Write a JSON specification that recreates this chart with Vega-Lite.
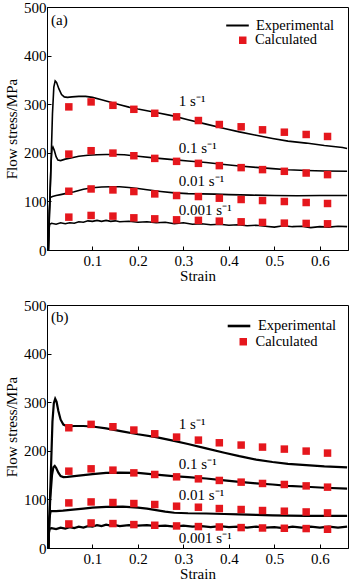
{
  "$schema": "https://vega.github.io/schema/vega-lite/v6.json",
  "padding": {"left": 4, "top": -1, "right": 0, "bottom": 0},
  "spacing": 13,
  "config": {
    "font": "Liberation Serif",
    "view": {"stroke": "black", "strokeWidth": 1},
    "axis": {
      "grid": false, "domainColor": "black", "tickColor": "black", "tickSize": -4,
      "labelFont": "Liberation Serif", "labelFontSize": 15, "labelColor": "black",
      "titleFont": "Liberation Serif", "titleFontSize": 15, "titleFontWeight": "normal", "titleColor": "black"
    },
    "axisX": {"labelPadding": 7, "titlePadding": 0},
    "axisY": {"labelPadding": 5, "titlePadding": 4},
    "legend": {"labelFont": "Liberation Serif", "labelFontSize": 14.5, "labelColor": "black", "title": null, "orient": "none"}
  },
  "resolve": {"scale": {"stroke": "independent", "fill": "independent"}, "legend": {"stroke": "independent", "fill": "independent"}},
  "datasets": {
    "exp": [
      {"panel":"a","rate":"1","strain":0.003,"stress":0},{"panel":"a","rate":"1","strain":0.008,"stress":150},{"panel":"a","rate":"1","strain":0.012,"stress":280},{"panel":"a","rate":"1","strain":0.015,"stress":335},{"panel":"a","rate":"1","strain":0.018,"stress":348},{"panel":"a","rate":"1","strain":0.021,"stress":345},{"panel":"a","rate":"1","strain":0.026,"stress":332},{"panel":"a","rate":"1","strain":0.032,"stress":320},{"panel":"a","rate":"1","strain":0.038,"stress":315},{"panel":"a","rate":"1","strain":0.045,"stress":314},{"panel":"a","rate":"1","strain":0.055,"stress":315},{"panel":"a","rate":"1","strain":0.07,"stress":316},{"panel":"a","rate":"1","strain":0.085,"stress":316},{"panel":"a","rate":"1","strain":0.1,"stress":314},{"panel":"a","rate":"1","strain":0.12,"stress":309},{"panel":"a","rate":"1","strain":0.14,"stress":304},{"panel":"a","rate":"1","strain":0.16,"stress":299},{"panel":"a","rate":"1","strain":0.18,"stress":294},{"panel":"a","rate":"1","strain":0.2,"stress":290},{"panel":"a","rate":"1","strain":0.24,"stress":283},{"panel":"a","rate":"1","strain":0.277,"stress":276},{"panel":"a","rate":"1","strain":0.31,"stress":268},{"panel":"a","rate":"1","strain":0.35,"stress":259},{"panel":"a","rate":"1","strain":0.39,"stress":250},{"panel":"a","rate":"1","strain":0.423,"stress":243},{"panel":"a","rate":"1","strain":0.46,"stress":236},{"panel":"a","rate":"1","strain":0.496,"stress":229.5},{"panel":"a","rate":"1","strain":0.53,"stress":224},{"panel":"a","rate":"1","strain":0.57,"stress":220},{"panel":"a","rate":"1","strain":0.61,"stress":215},{"panel":"a","rate":"1","strain":0.65,"stress":211},{"panel":"a","rate":"1","strain":0.66,"stress":209},
      {"panel":"a","rate":"0.1","strain":0.003,"stress":0},{"panel":"a","rate":"0.1","strain":0.006,"stress":100},{"panel":"a","rate":"0.1","strain":0.009,"stress":180},{"panel":"a","rate":"0.1","strain":0.011,"stress":208},{"panel":"a","rate":"0.1","strain":0.013,"stress":212},{"panel":"a","rate":"0.1","strain":0.016,"stress":205},{"panel":"a","rate":"0.1","strain":0.02,"stress":192},{"panel":"a","rate":"0.1","strain":0.024,"stress":185},{"panel":"a","rate":"0.1","strain":0.03,"stress":184},{"panel":"a","rate":"0.1","strain":0.04,"stress":187},{"panel":"a","rate":"0.1","strain":0.055,"stress":190},{"panel":"a","rate":"0.1","strain":0.07,"stress":193},{"panel":"a","rate":"0.1","strain":0.09,"stress":195},{"panel":"a","rate":"0.1","strain":0.11,"stress":196},{"panel":"a","rate":"0.1","strain":0.13,"stress":196.5},{"panel":"a","rate":"0.1","strain":0.15,"stress":196.5},{"panel":"a","rate":"0.1","strain":0.17,"stress":196},{"panel":"a","rate":"0.1","strain":0.2,"stress":193},{"panel":"a","rate":"0.1","strain":0.24,"stress":189},{"panel":"a","rate":"0.1","strain":0.277,"stress":186},{"panel":"a","rate":"0.1","strain":0.31,"stress":183},{"panel":"a","rate":"0.1","strain":0.35,"stress":180},{"panel":"a","rate":"0.1","strain":0.39,"stress":176},{"panel":"a","rate":"0.1","strain":0.423,"stress":173},{"panel":"a","rate":"0.1","strain":0.46,"stress":170},{"panel":"a","rate":"0.1","strain":0.496,"stress":167.5},{"panel":"a","rate":"0.1","strain":0.53,"stress":165},{"panel":"a","rate":"0.1","strain":0.57,"stress":163.5},{"panel":"a","rate":"0.1","strain":0.61,"stress":162.5},{"panel":"a","rate":"0.1","strain":0.66,"stress":162},
      {"panel":"a","rate":"0.01","strain":0.003,"stress":0},{"panel":"a","rate":"0.01","strain":0.005,"stress":80},{"panel":"a","rate":"0.01","strain":0.007,"stress":108},{"panel":"a","rate":"0.01","strain":0.012,"stress":110},{"panel":"a","rate":"0.01","strain":0.02,"stress":112},{"panel":"a","rate":"0.01","strain":0.03,"stress":114},{"panel":"a","rate":"0.01","strain":0.045,"stress":117},{"panel":"a","rate":"0.01","strain":0.06,"stress":120},{"panel":"a","rate":"0.01","strain":0.08,"stress":125},{"panel":"a","rate":"0.01","strain":0.1,"stress":128},{"panel":"a","rate":"0.01","strain":0.12,"stress":129.5},{"panel":"a","rate":"0.01","strain":0.14,"stress":130},{"panel":"a","rate":"0.01","strain":0.16,"stress":130},{"panel":"a","rate":"0.01","strain":0.18,"stress":128.5},{"panel":"a","rate":"0.01","strain":0.2,"stress":126.5},{"panel":"a","rate":"0.01","strain":0.22,"stress":124},{"panel":"a","rate":"0.01","strain":0.25,"stress":120.5},{"panel":"a","rate":"0.01","strain":0.28,"stress":117.5},{"panel":"a","rate":"0.01","strain":0.31,"stress":116},{"panel":"a","rate":"0.01","strain":0.34,"stress":115.5},{"panel":"a","rate":"0.01","strain":0.37,"stress":115},{"panel":"a","rate":"0.01","strain":0.4,"stress":114},{"panel":"a","rate":"0.01","strain":0.45,"stress":113},{"panel":"a","rate":"0.01","strain":0.5,"stress":112},{"panel":"a","rate":"0.01","strain":0.55,"stress":111.5},{"panel":"a","rate":"0.01","strain":0.6,"stress":112},{"panel":"a","rate":"0.01","strain":0.66,"stress":112},
      {"panel":"a","rate":"0.001","strain":0.003,"stress":0},{"panel":"a","rate":"0.001","strain":0.004,"stress":40},{"panel":"a","rate":"0.001","strain":0.006,"stress":53},{"panel":"a","rate":"0.001","strain":0.01,"stress":55},{"panel":"a","rate":"0.001","strain":0.02,"stress":53},{"panel":"a","rate":"0.001","strain":0.03,"stress":56},{"panel":"a","rate":"0.001","strain":0.04,"stress":54},{"panel":"a","rate":"0.001","strain":0.05,"stress":56},{"panel":"a","rate":"0.001","strain":0.06,"stress":55},{"panel":"a","rate":"0.001","strain":0.07,"stress":58},{"panel":"a","rate":"0.001","strain":0.08,"stress":57},{"panel":"a","rate":"0.001","strain":0.09,"stress":60},{"panel":"a","rate":"0.001","strain":0.1,"stress":59},{"panel":"a","rate":"0.001","strain":0.11,"stress":61},{"panel":"a","rate":"0.001","strain":0.12,"stress":59},{"panel":"a","rate":"0.001","strain":0.13,"stress":61},{"panel":"a","rate":"0.001","strain":0.14,"stress":59},{"panel":"a","rate":"0.001","strain":0.15,"stress":60},{"panel":"a","rate":"0.001","strain":0.16,"stress":58},{"panel":"a","rate":"0.001","strain":0.18,"stress":59},{"panel":"a","rate":"0.001","strain":0.2,"stress":57},{"panel":"a","rate":"0.001","strain":0.22,"stress":58},{"panel":"a","rate":"0.001","strain":0.24,"stress":56},{"panel":"a","rate":"0.001","strain":0.26,"stress":57},{"panel":"a","rate":"0.001","strain":0.28,"stress":54},{"panel":"a","rate":"0.001","strain":0.3,"stress":56},{"panel":"a","rate":"0.001","strain":0.32,"stress":53},{"panel":"a","rate":"0.001","strain":0.34,"stress":54},{"panel":"a","rate":"0.001","strain":0.36,"stress":52},{"panel":"a","rate":"0.001","strain":0.38,"stress":53},{"panel":"a","rate":"0.001","strain":0.4,"stress":51},{"panel":"a","rate":"0.001","strain":0.42,"stress":52},{"panel":"a","rate":"0.001","strain":0.44,"stress":50},{"panel":"a","rate":"0.001","strain":0.46,"stress":51},{"panel":"a","rate":"0.001","strain":0.48,"stress":49},{"panel":"a","rate":"0.001","strain":0.5,"stress":47},{"panel":"a","rate":"0.001","strain":0.52,"stress":50},{"panel":"a","rate":"0.001","strain":0.54,"stress":48},{"panel":"a","rate":"0.001","strain":0.56,"stress":49},{"panel":"a","rate":"0.001","strain":0.58,"stress":46},{"panel":"a","rate":"0.001","strain":0.6,"stress":48},{"panel":"a","rate":"0.001","strain":0.62,"stress":47},{"panel":"a","rate":"0.001","strain":0.64,"stress":49},{"panel":"a","rate":"0.001","strain":0.66,"stress":48},
      {"panel":"b","rate":"1","strain":0.003,"stress":0},{"panel":"b","rate":"1","strain":0.008,"stress":140},{"panel":"b","rate":"1","strain":0.012,"stress":260},{"panel":"b","rate":"1","strain":0.015,"stress":298},{"panel":"b","rate":"1","strain":0.018,"stress":307},{"panel":"b","rate":"1","strain":0.021,"stress":301},{"panel":"b","rate":"1","strain":0.025,"stress":282},{"panel":"b","rate":"1","strain":0.03,"stress":264},{"panel":"b","rate":"1","strain":0.036,"stress":254},{"panel":"b","rate":"1","strain":0.045,"stress":250},{"panel":"b","rate":"1","strain":0.06,"stress":251},{"panel":"b","rate":"1","strain":0.08,"stress":251},{"panel":"b","rate":"1","strain":0.1,"stress":250},{"panel":"b","rate":"1","strain":0.13,"stress":246},{"panel":"b","rate":"1","strain":0.165,"stress":240},{"panel":"b","rate":"1","strain":0.2,"stress":234},{"panel":"b","rate":"1","strain":0.24,"stress":228},{"panel":"b","rate":"1","strain":0.277,"stress":221},{"panel":"b","rate":"1","strain":0.31,"stress":214},{"panel":"b","rate":"1","strain":0.35,"stress":205},{"panel":"b","rate":"1","strain":0.39,"stress":196},{"panel":"b","rate":"1","strain":0.423,"stress":189},{"panel":"b","rate":"1","strain":0.46,"stress":182},{"panel":"b","rate":"1","strain":0.496,"stress":177},{"panel":"b","rate":"1","strain":0.53,"stress":173},{"panel":"b","rate":"1","strain":0.57,"stress":170.5},{"panel":"b","rate":"1","strain":0.61,"stress":168},{"panel":"b","rate":"1","strain":0.66,"stress":166},
      {"panel":"b","rate":"0.1","strain":0.003,"stress":0},{"panel":"b","rate":"0.1","strain":0.007,"stress":100},{"panel":"b","rate":"0.1","strain":0.011,"stress":150},{"panel":"b","rate":"0.1","strain":0.014,"stress":166},{"panel":"b","rate":"0.1","strain":0.017,"stress":169},{"panel":"b","rate":"0.1","strain":0.02,"stress":165},{"panel":"b","rate":"0.1","strain":0.025,"stress":155},{"panel":"b","rate":"0.1","strain":0.03,"stress":148},{"panel":"b","rate":"0.1","strain":0.036,"stress":146},{"panel":"b","rate":"0.1","strain":0.045,"stress":146.5},{"panel":"b","rate":"0.1","strain":0.06,"stress":148},{"panel":"b","rate":"0.1","strain":0.08,"stress":150},{"panel":"b","rate":"0.1","strain":0.1,"stress":152},{"panel":"b","rate":"0.1","strain":0.13,"stress":154.5},{"panel":"b","rate":"0.1","strain":0.16,"stress":155},{"panel":"b","rate":"0.1","strain":0.2,"stress":154.5},{"panel":"b","rate":"0.1","strain":0.24,"stress":151},{"panel":"b","rate":"0.1","strain":0.277,"stress":148},{"panel":"b","rate":"0.1","strain":0.31,"stress":146},{"panel":"b","rate":"0.1","strain":0.35,"stress":143},{"panel":"b","rate":"0.1","strain":0.39,"stress":139},{"panel":"b","rate":"0.1","strain":0.423,"stress":136},{"panel":"b","rate":"0.1","strain":0.46,"stress":133},{"panel":"b","rate":"0.1","strain":0.496,"stress":130.7},{"panel":"b","rate":"0.1","strain":0.53,"stress":128},{"panel":"b","rate":"0.1","strain":0.57,"stress":126},{"panel":"b","rate":"0.1","strain":0.61,"stress":124},{"panel":"b","rate":"0.1","strain":0.66,"stress":122},
      {"panel":"b","rate":"0.01","strain":0.003,"stress":0},{"panel":"b","rate":"0.01","strain":0.005,"stress":60},{"panel":"b","rate":"0.01","strain":0.008,"stress":76},{"panel":"b","rate":"0.01","strain":0.012,"stress":76},{"panel":"b","rate":"0.01","strain":0.02,"stress":76},{"panel":"b","rate":"0.01","strain":0.035,"stress":77},{"panel":"b","rate":"0.01","strain":0.057,"stress":79},{"panel":"b","rate":"0.01","strain":0.08,"stress":81},{"panel":"b","rate":"0.01","strain":0.1,"stress":83},{"panel":"b","rate":"0.01","strain":0.13,"stress":84.5},{"panel":"b","rate":"0.01","strain":0.167,"stress":85.2},{"panel":"b","rate":"0.01","strain":0.2,"stress":83},{"panel":"b","rate":"0.01","strain":0.22,"stress":81},{"panel":"b","rate":"0.01","strain":0.24,"stress":78},{"panel":"b","rate":"0.01","strain":0.26,"stress":75},{"panel":"b","rate":"0.01","strain":0.28,"stress":72.5},{"panel":"b","rate":"0.01","strain":0.31,"stress":71.5},{"panel":"b","rate":"0.01","strain":0.35,"stress":71},{"panel":"b","rate":"0.01","strain":0.39,"stress":70},{"panel":"b","rate":"0.01","strain":0.423,"stress":69},{"panel":"b","rate":"0.01","strain":0.46,"stress":68},{"panel":"b","rate":"0.01","strain":0.496,"stress":67},{"panel":"b","rate":"0.01","strain":0.53,"stress":66.5},{"panel":"b","rate":"0.01","strain":0.57,"stress":66.3},{"panel":"b","rate":"0.01","strain":0.62,"stress":66.3},{"panel":"b","rate":"0.01","strain":0.66,"stress":66.3},
      {"panel":"b","rate":"0.001","strain":0.003,"stress":0},{"panel":"b","rate":"0.001","strain":0.004,"stress":30},{"panel":"b","rate":"0.001","strain":0.006,"stress":40},{"panel":"b","rate":"0.001","strain":0.01,"stress":41},{"panel":"b","rate":"0.001","strain":0.02,"stress":39},{"panel":"b","rate":"0.001","strain":0.03,"stress":42},{"panel":"b","rate":"0.001","strain":0.04,"stress":40},{"panel":"b","rate":"0.001","strain":0.05,"stress":43},{"panel":"b","rate":"0.001","strain":0.06,"stress":41},{"panel":"b","rate":"0.001","strain":0.07,"stress":44},{"panel":"b","rate":"0.001","strain":0.08,"stress":42},{"panel":"b","rate":"0.001","strain":0.09,"stress":45},{"panel":"b","rate":"0.001","strain":0.1,"stress":44},{"panel":"b","rate":"0.001","strain":0.11,"stress":47},{"panel":"b","rate":"0.001","strain":0.12,"stress":45},{"panel":"b","rate":"0.001","strain":0.13,"stress":48},{"panel":"b","rate":"0.001","strain":0.14,"stress":46},{"panel":"b","rate":"0.001","strain":0.15,"stress":47},{"panel":"b","rate":"0.001","strain":0.16,"stress":45},{"panel":"b","rate":"0.001","strain":0.18,"stress":47},{"panel":"b","rate":"0.001","strain":0.2,"stress":46},{"panel":"b","rate":"0.001","strain":0.22,"stress":47},{"panel":"b","rate":"0.001","strain":0.24,"stress":45},{"panel":"b","rate":"0.001","strain":0.26,"stress":46},{"panel":"b","rate":"0.001","strain":0.28,"stress":44},{"panel":"b","rate":"0.001","strain":0.3,"stress":46},{"panel":"b","rate":"0.001","strain":0.32,"stress":44},{"panel":"b","rate":"0.001","strain":0.34,"stress":45},{"panel":"b","rate":"0.001","strain":0.36,"stress":43},{"panel":"b","rate":"0.001","strain":0.38,"stress":45},{"panel":"b","rate":"0.001","strain":0.4,"stress":43},{"panel":"b","rate":"0.001","strain":0.42,"stress":44},{"panel":"b","rate":"0.001","strain":0.44,"stress":42},{"panel":"b","rate":"0.001","strain":0.46,"stress":44},{"panel":"b","rate":"0.001","strain":0.48,"stress":42},{"panel":"b","rate":"0.001","strain":0.5,"stress":43},{"panel":"b","rate":"0.001","strain":0.52,"stress":41},{"panel":"b","rate":"0.001","strain":0.54,"stress":44},{"panel":"b","rate":"0.001","strain":0.56,"stress":42},{"panel":"b","rate":"0.001","strain":0.58,"stress":44},{"panel":"b","rate":"0.001","strain":0.6,"stress":42},{"panel":"b","rate":"0.001","strain":0.62,"stress":44},{"panel":"b","rate":"0.001","strain":0.64,"stress":42},{"panel":"b","rate":"0.001","strain":0.66,"stress":44}
    ],
    "calc": [
      {"panel":"a","rate":"1","strain":0.048,"stress":294.5},{"panel":"a","rate":"1","strain":0.097,"stress":304.7},{"panel":"a","rate":"1","strain":0.145,"stress":297.7},{"panel":"a","rate":"1","strain":0.191,"stress":289.5},{"panel":"a","rate":"1","strain":0.237,"stress":281.3},{"panel":"a","rate":"1","strain":0.285,"stress":274},{"panel":"a","rate":"1","strain":0.333,"stress":266.4},{"panel":"a","rate":"1","strain":0.379,"stress":258.2},{"panel":"a","rate":"1","strain":0.427,"stress":253.5},{"panel":"a","rate":"1","strain":0.474,"stress":247.3},{"panel":"a","rate":"1","strain":0.522,"stress":242.4},{"panel":"a","rate":"1","strain":0.57,"stress":237.7},{"panel":"a","rate":"1","strain":0.617,"stress":233.6},
      {"panel":"a","rate":"0.1","strain":0.048,"stress":197.3},{"panel":"a","rate":"0.1","strain":0.097,"stress":204.3},{"panel":"a","rate":"0.1","strain":0.145,"stress":199.4},{"panel":"a","rate":"0.1","strain":0.191,"stress":194},{"panel":"a","rate":"0.1","strain":0.237,"stress":188.5},{"panel":"a","rate":"0.1","strain":0.285,"stress":182.4},{"panel":"a","rate":"0.1","strain":0.333,"stress":178.3},{"panel":"a","rate":"0.1","strain":0.379,"stress":173.6},{"panel":"a","rate":"0.1","strain":0.427,"stress":169.5},{"panel":"a","rate":"0.1","strain":0.474,"stress":165.4},{"panel":"a","rate":"0.1","strain":0.522,"stress":161.9},{"panel":"a","rate":"0.1","strain":0.57,"stress":158.4},{"panel":"a","rate":"0.1","strain":0.617,"stress":155.1},
      {"panel":"a","rate":"0.01","strain":0.048,"stress":120.9},{"panel":"a","rate":"0.01","strain":0.097,"stress":125.6},{"panel":"a","rate":"0.01","strain":0.145,"stress":123.6},{"panel":"a","rate":"0.01","strain":0.191,"stress":120.3},{"panel":"a","rate":"0.01","strain":0.237,"stress":115.4},{"panel":"a","rate":"0.01","strain":0.285,"stress":112.1},{"panel":"a","rate":"0.01","strain":0.333,"stress":110},{"panel":"a","rate":"0.01","strain":0.379,"stress":106.6},{"panel":"a","rate":"0.01","strain":0.427,"stress":103.9},{"panel":"a","rate":"0.01","strain":0.474,"stress":101.8},{"panel":"a","rate":"0.01","strain":0.522,"stress":99.8},{"panel":"a","rate":"0.01","strain":0.57,"stress":97.7},{"panel":"a","rate":"0.01","strain":0.617,"stress":95.7},
      {"panel":"a","rate":"0.001","strain":0.048,"stress":67.6},{"panel":"a","rate":"0.001","strain":0.097,"stress":71.1},{"panel":"a","rate":"0.001","strain":0.145,"stress":69.7},{"panel":"a","rate":"0.001","strain":0.191,"stress":66.2},{"panel":"a","rate":"0.001","strain":0.237,"stress":64.1},{"panel":"a","rate":"0.001","strain":0.285,"stress":62.1},{"panel":"a","rate":"0.001","strain":0.333,"stress":60.9},{"panel":"a","rate":"0.001","strain":0.379,"stress":59.4},{"panel":"a","rate":"0.001","strain":0.427,"stress":58},{"panel":"a","rate":"0.001","strain":0.474,"stress":56.8},{"panel":"a","rate":"0.001","strain":0.522,"stress":55.3},{"panel":"a","rate":"0.001","strain":0.57,"stress":54.7},{"panel":"a","rate":"0.001","strain":0.617,"stress":53.9},
      {"panel":"b","rate":"1","strain":0.048,"stress":247.4},{"panel":"b","rate":"1","strain":0.097,"stress":254.4},{"panel":"b","rate":"1","strain":0.145,"stress":249.5},{"panel":"b","rate":"1","strain":0.191,"stress":242.7},{"panel":"b","rate":"1","strain":0.237,"stress":235},{"panel":"b","rate":"1","strain":0.285,"stress":228.2},{"panel":"b","rate":"1","strain":0.333,"stress":222},{"panel":"b","rate":"1","strain":0.379,"stress":216.5},{"panel":"b","rate":"1","strain":0.427,"stress":211.8},{"panel":"b","rate":"1","strain":0.474,"stress":207.6},{"panel":"b","rate":"1","strain":0.522,"stress":203.5},{"panel":"b","rate":"1","strain":0.57,"stress":199.4},{"panel":"b","rate":"1","strain":0.617,"stress":195.3},
      {"panel":"b","rate":"0.1","strain":0.048,"stress":158.1},{"panel":"b","rate":"0.1","strain":0.097,"stress":162.9},{"panel":"b","rate":"0.1","strain":0.145,"stress":160.2},{"panel":"b","rate":"0.1","strain":0.191,"stress":154.6},{"panel":"b","rate":"0.1","strain":0.237,"stress":151.3},{"panel":"b","rate":"0.1","strain":0.285,"stress":146.4},{"panel":"b","rate":"0.1","strain":0.333,"stress":142.3},{"panel":"b","rate":"0.1","strain":0.379,"stress":139},{"panel":"b","rate":"0.1","strain":0.427,"stress":135.5},{"panel":"b","rate":"0.1","strain":0.474,"stress":132.8},{"panel":"b","rate":"0.1","strain":0.522,"stress":130.7},{"panel":"b","rate":"0.1","strain":0.57,"stress":127.8},{"panel":"b","rate":"0.1","strain":0.617,"stress":125.2},
      {"panel":"b","rate":"0.01","strain":0.048,"stress":92.8},{"panel":"b","rate":"0.01","strain":0.097,"stress":94.8},{"panel":"b","rate":"0.01","strain":0.145,"stress":93.6},{"panel":"b","rate":"0.01","strain":0.191,"stress":91.5},{"panel":"b","rate":"0.01","strain":0.237,"stress":89.5},{"panel":"b","rate":"0.01","strain":0.285,"stress":86},{"panel":"b","rate":"0.01","strain":0.333,"stress":83.9},{"panel":"b","rate":"0.01","strain":0.379,"stress":81.2},{"panel":"b","rate":"0.01","strain":0.427,"stress":79.2},{"panel":"b","rate":"0.01","strain":0.474,"stress":77.1},{"panel":"b","rate":"0.01","strain":0.522,"stress":75.7},{"panel":"b","rate":"0.01","strain":0.57,"stress":74.2},{"panel":"b","rate":"0.01","strain":0.617,"stress":72.2},
      {"panel":"b","rate":"0.001","strain":0.048,"stress":49.5},{"panel":"b","rate":"0.001","strain":0.097,"stress":51.5},{"panel":"b","rate":"0.001","strain":0.145,"stress":50.3},{"panel":"b","rate":"0.001","strain":0.191,"stress":48.2},{"panel":"b","rate":"0.001","strain":0.237,"stress":46.8},{"panel":"b","rate":"0.001","strain":0.285,"stress":45.4},{"panel":"b","rate":"0.001","strain":0.333,"stress":44.1},{"panel":"b","rate":"0.001","strain":0.379,"stress":43.3},{"panel":"b","rate":"0.001","strain":0.427,"stress":42},{"panel":"b","rate":"0.001","strain":0.474,"stress":41.2},{"panel":"b","rate":"0.001","strain":0.522,"stress":40.6},{"panel":"b","rate":"0.001","strain":0.57,"stress":40},{"panel":"b","rate":"0.001","strain":0.617,"stress":38.6}
    ],
    "labels": [
      {"panel":"a","strain":0.29,"stress":307,"label":"1 s⁻¹"},
      {"panel":"a","strain":0.29,"stress":210,"label":"0.1 s⁻¹"},
      {"panel":"a","strain":0.29,"stress":142,"label":"0.01 s⁻¹"},
      {"panel":"a","strain":0.29,"stress":82,"label":"0.001 s⁻¹"},
      {"panel":"a","strain":0.009,"stress":474,"label":"(a)"},
      {"panel":"b","strain":0.29,"stress":256,"label":"1 s⁻¹"},
      {"panel":"b","strain":0.29,"stress":172,"label":"0.1 s⁻¹"},
      {"panel":"b","strain":0.29,"stress":110,"label":"0.01 s⁻¹"},
      {"panel":"b","strain":0.29,"stress":21,"label":"0.001 s⁻¹"},
      {"panel":"b","strain":0.009,"stress":476,"label":"(b)"}
    ]
  },
  "vconcat": [
    {
      "width": 301, "height": 243,
      "layer": [
        {
          "data": {"name": "exp"},
          "transform": [{"filter": "datum.panel === 'a'"}],
          "mark": {"type": "line", "strokeWidth": 1.6},
          "encoding": {
            "x": {"field": "strain", "type": "quantitative", "scale": {"domain": [0, 0.662], "nice": false}, "axis": {"values": [0.1, 0.2, 0.3, 0.4, 0.5, 0.6], "format": ".1f", "title": "Strain"}},
            "y": {"field": "stress", "type": "quantitative", "scale": {"domain": [0, 500], "nice": false}, "axis": {"values": [0, 100, 200, 300, 400, 500], "title": "Flow stress/MPa"}},
            "detail": {"field": "rate"},
            "stroke": {"datum": "Experimental", "scale": {"range": ["black"]}, "legend": {"legendX": 178, "legendY": 6, "symbolType": "stroke", "symbolSize": 510, "symbolStrokeWidth": 2, "labelOffset": 6}}
          }
        },
        {
          "data": {"name": "calc"},
          "transform": [{"filter": "datum.panel === 'a'"}],
          "mark": {"type": "point", "filled": true, "opacity": 1, "size": 56, "shape": "square"},
          "encoding": {
            "x": {"field": "strain", "type": "quantitative"},
            "y": {"field": "stress", "type": "quantitative"},
            "fill": {"datum": "Calculated", "scale": {"range": ["#e5171d"]}, "legend": {"legendX": 188.5, "legendY": 26, "symbolType": "square", "symbolSize": 56, "labelOffset": 5}}
          }
        },
        {
          "data": {"name": "labels"},
          "transform": [{"filter": "datum.panel === 'a'"}],
          "mark": {"type": "text", "align": "left", "baseline": "middle", "font": "Liberation Serif", "fontSize": 15, "color": "black"},
          "encoding": {
            "x": {"field": "strain", "type": "quantitative"},
            "y": {"field": "stress", "type": "quantitative"},
            "text": {"field": "label"}
          }
        }
      ]
    },
    {
      "width": 301, "height": 243,
      "layer": [
        {
          "data": {"name": "exp"},
          "transform": [{"filter": "datum.panel === 'b'"}],
          "mark": {"type": "line", "strokeWidth": 2.2},
          "encoding": {
            "x": {"field": "strain", "type": "quantitative", "scale": {"domain": [0, 0.662], "nice": false}, "axis": {"values": [0.1, 0.2, 0.3, 0.4, 0.5, 0.6], "format": ".1f", "title": "Strain"}},
            "y": {"field": "stress", "type": "quantitative", "scale": {"domain": [0, 500], "nice": false}, "axis": {"values": [0, 100, 200, 300, 400, 500], "title": "Flow stress/MPa"}},
            "detail": {"field": "rate"},
            "stroke": {"datum": "Experimental", "scale": {"range": ["black"]}, "legend": {"legendX": 179, "legendY": 8, "symbolType": "stroke", "symbolSize": 510, "symbolStrokeWidth": 2.6, "labelOffset": 6}}
          }
        },
        {
          "data": {"name": "calc"},
          "transform": [{"filter": "datum.panel === 'b'"}],
          "mark": {"type": "point", "filled": true, "opacity": 1, "size": 56, "shape": "square"},
          "encoding": {
            "x": {"field": "strain", "type": "quantitative"},
            "y": {"field": "stress", "type": "quantitative"},
            "fill": {"datum": "Calculated", "scale": {"range": ["#e5171d"]}, "legend": {"legendX": 189, "legendY": 29.5, "symbolType": "square", "symbolSize": 56, "labelOffset": 5}}
          }
        },
        {
          "data": {"name": "labels"},
          "transform": [{"filter": "datum.panel === 'b'"}],
          "mark": {"type": "text", "align": "left", "baseline": "middle", "font": "Liberation Serif", "fontSize": 15, "color": "black"},
          "encoding": {
            "x": {"field": "strain", "type": "quantitative"},
            "y": {"field": "stress", "type": "quantitative"},
            "text": {"field": "label"}
          }
        }
      ]
    }
  ]
}
